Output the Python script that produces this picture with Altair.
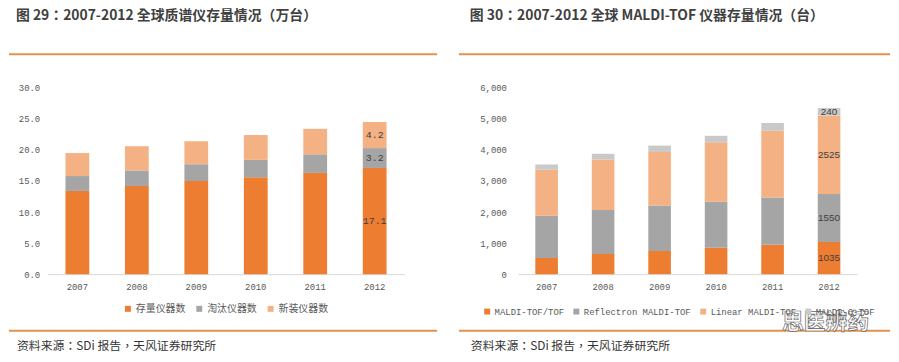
import altair as alt
import pandas as pd

years = ["2007", "2008", "2009", "2010", "2011", "2012"]

# Left chart: 全球质谱仪存量 (万台)
left_series = ["存量仪器数", "淘汰仪器数", "新装仪器数"]
stock = [13.4, 14.2, 15.0, 15.6, 16.3, 17.1]
retired = [2.4, 2.5, 2.7, 2.8, 3.0, 3.2]
installed = [3.7, 3.9, 3.7, 4.0, 4.1, 4.2]
left_ticks = [0, 5, 10, 15, 20, 25, 30]
left_title = "图 29：2007-2012 全球质谱仪存量情况（万台）"

# Right chart: MALDI-TOF 仪器存量 (台)
right_series = ["MALDI-TOF/TOF", "Reflectron MALDI-TOF", "Linear MALDI-TOF", "MALDI-Q-TOF"]
tof_tof = [520, 650, 745, 850, 945, 1035]
reflectron = [1360, 1420, 1465, 1485, 1520, 1550]
linear = [1485, 1625, 1720, 1910, 2155, 2525]
q_tof = [170, 180, 210, 210, 245, 240]
right_ticks = [0, 1000, 2000, 3000, 4000, 5000, 6000]
right_title = "图 30：2007-2012 全球 MALDI-TOF 仪器存量情况（台）"

source_text = "资料来源：SDi 报告，天风证券研究所"
watermark = "思医辨药"

left_colors = ["#ED7D31", "#A5A5A5", "#F4B183"]
right_colors = ["#ED7D31", "#A5A5A5", "#F4B183", "#C9C9C9"]
LINE = "#E0924E"
CJK = "Noto Sans CJK SC"
CJK_T = "Noto Sans CJK TC"
MONO = "Liberation Mono"


def long_table(series, arrays):
    rows = []
    for order, (name, vals) in enumerate(zip(series, arrays)):
        for y, v in zip(years, vals):
            rows.append({"year": y, "series": name, "value": v, "order": order})
    return pd.DataFrame(rows)


def one(col, val):
    return pd.DataFrame({col: [val]})


def panel(df, series, colors, domain, ticks, fmt, label_fmt, label_font,
          W, H, ypad, legend_x, legend_y, legend_font, legend_size, col_pad,
          title, title_x, rule_x1, rule_x2, src_x, extra=None):
    base = alt.Chart(df).transform_stack(
        stack="value", groupby=["year"],
        sort=[alt.SortField("order", "ascending")], as_=["v0", "v1"]
    )
    xaxis = alt.Axis(title=None, labelAngle=0, ticks=False,
                     domainColor="#D9D9D9", labelColor="#595959",
                     labelFont=MONO, labelFontSize=9, labelPadding=8)
    yaxis = alt.Axis(title=None, values=ticks, format=fmt, domain=False,
                     ticks=False, grid=False, labelColor="#595959",
                     labelFont=MONO, labelFontSize=9, labelPadding=ypad)
    xscale = alt.Scale(paddingInner=0.6, paddingOuter=0.3)
    yscale = alt.Scale(domain=domain, nice=False)
    bars = base.mark_bar().encode(
        x=alt.X("year:N", sort=years, scale=xscale, axis=xaxis),
        y=alt.Y("v0:Q", scale=yscale, axis=yaxis),
        y2="v1:Q",
        color=alt.Color("series:N", scale=alt.Scale(domain=series, range=colors),
                        legend=alt.Legend(title=None, orient="none", legendX=legend_x,
                                          legendY=legend_y, direction="horizontal",
                                          symbolType="square", symbolSize=36,
                                          symbolStrokeWidth=0, labelFont=legend_font,
                                          labelFontSize=legend_size, labelColor="#595959",
                                          columnPadding=col_pad, labelOffset=3,
                                          labelLimit=0)),
    )
    labels = base.transform_filter(alt.datum.year == "2012").transform_calculate(
        v0="(datum.v0 + datum.v1) / 2"
    ).mark_text(font=label_font, fontSize=10, color="#404040").encode(
        x=alt.X("year:N", sort=years, scale=xscale, axis=xaxis),
        y=alt.Y("v0:Q", scale=yscale, axis=yaxis),
        text=alt.Text("value:Q", format=label_fmt),
    )
    top_rule = alt.Chart(one("k", 0)).mark_rule(color=LINE, strokeWidth=2).encode(
        x=alt.value(rule_x1), x2=alt.value(rule_x2), y=alt.value(-34))
    bot_rule = alt.Chart(one("k", 0)).mark_rule(color=LINE, strokeWidth=2).encode(
        x=alt.value(rule_x1), x2=alt.value(rule_x2), y=alt.value(245))
    ttl = alt.Chart(one("t", title)).mark_text(
        align="left", baseline="middle", font=CJK_T, fontSize=14,
        fontWeight="bold", color="#404040").encode(
        x=alt.value(title_x), y=alt.value(-72), text="t:N")
    src = alt.Chart(one("t", source_text)).mark_text(
        align="left", baseline="middle", font=CJK_T, fontSize=12,
        color="#333333").encode(
        x=alt.value(src_x), y=alt.value(261), text="t:N")
    layers = [bars, labels, top_rule, bot_rule, ttl, src]
    if extra is not None:
        layers.append(extra)
    return alt.layer(*layers).properties(width=W, height=H)


left_df = long_table(left_series, [stock, retired, installed])
right_df = long_table(right_series, [tof_tof, reflectron, linear, q_tof])

wm = alt.Chart(one("t", watermark)).mark_text(
    align="left", baseline="middle", font=CJK, fontSize=22, fontWeight="bold",
    color="#FFFFFF", stroke="#555555", strokeWidth=0.7, opacity=0.9).encode(
    x=alt.value(266), y=alt.value(236), text="t:N")

left = panel(left_df, left_series, left_colors, [0, 30], left_ticks, ".1f", ".1f", MONO,
             360, 188, 8, 76, 218, CJK, 10, 9,
             left_title, -32, -39, 393, -31)
right = panel(right_df, right_series, right_colors, [0, 6000], right_ticks, ",d", "d",
              "Liberation Sans", 342, 188, 12, -36, 221, MONO, 9, 7,
              right_title, -49, -60, 375, -48, extra=wm)

chart = alt.hconcat(left, right, spacing=20).resolve_scale(
    color="independent", x="independent", y="independent"
).properties(padding=0).configure_view(stroke=None)

chart.save("out.html", embed_options={"renderer": "svg", "actions": False})
